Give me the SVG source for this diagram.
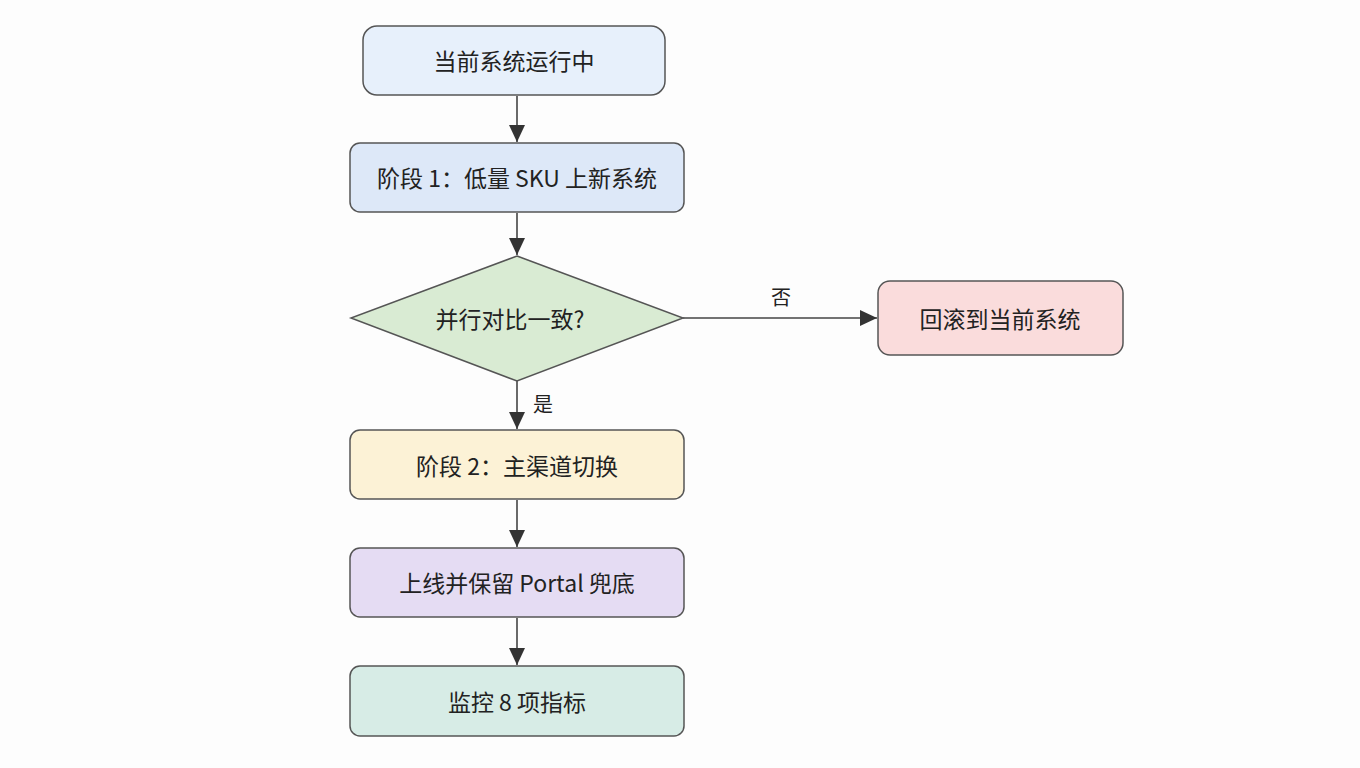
<svg xmlns="http://www.w3.org/2000/svg" width="1360" height="768" viewBox="0 0 1360 768">
<style>
.n{stroke:#555;stroke-width:1.5}
.t{font-family:"Noto Sans CJK SC","Noto Sans",sans-serif;font-size:23px;fill:#222;text-anchor:middle;dominant-baseline:central}
.l{font-family:"Noto Sans CJK SC","Noto Sans",sans-serif;font-size:20px;fill:#222;text-anchor:middle;dominant-baseline:central}
.c{stroke:#444;stroke-width:1.6;fill:none;marker-end:url(#a)}
</style>
<defs>
<marker id="a" viewBox="0 0 10 10" refX="10" refY="5" markerWidth="17" markerHeight="16" markerUnits="userSpaceOnUse" orient="auto" preserveAspectRatio="none">
<path d="M0,0 L10,5 L0,10 z" fill="#333"/>
</marker>
</defs>
<rect width="1360" height="768" fill="#fdfdfd"/>
<g id="connectors">
<line class="c" x1="517" y1="96" x2="517" y2="142"/>
<line class="c" x1="517" y1="213" x2="517" y2="255"/>
<line class="c" x1="517" y1="381" x2="517" y2="429"/>
<line class="c" x1="517" y1="500" x2="517" y2="547"/>
<line class="c" x1="517" y1="618" x2="517" y2="665"/>
<line class="c" x1="683" y1="318" x2="877" y2="318"/>
<text class="l" x="781" y="296">否</text>
<text class="l" x="543" y="403">是</text>
</g>
<g id="n1"><rect class="n" x="363" y="26" width="302" height="69" rx="14" fill="#e7f0fb"/><text class="t" x="514" y="60">当前系统运行中</text></g>
<g id="n2"><rect class="n" x="350" y="143" width="334" height="69" rx="10" fill="#dde8f8"/><text class="t" x="517" y="177">阶段 1：低量 SKU 上新系统</text></g>
<g id="d1"><polygon class="n" points="517,256 683,318 517,381 351,318" fill="#d9ebd3"/><text class="t" x="510" y="318">并行对比一致?</text></g>
<g id="n6"><rect class="n" x="878" y="281" width="245" height="74" rx="12" fill="#fadcdc"/><text class="t" x="1000" y="318">回滚到当前系统</text></g>
<g id="n3"><rect class="n" x="350" y="430" width="334" height="69" rx="10" fill="#fcf2d6"/><text class="t" x="517" y="465">阶段 2：主渠道切换</text></g>
<g id="n4"><rect class="n" x="350" y="548" width="334" height="69" rx="10" fill="#e5dcf3"/><text class="t" x="517" y="582">上线并保留 Portal 兜底</text></g>
<g id="n5"><rect class="n" x="350" y="666" width="334" height="70" rx="10" fill="#d7ece6"/><text class="t" x="517" y="701">监控 8 项指标</text></g>
</svg>
